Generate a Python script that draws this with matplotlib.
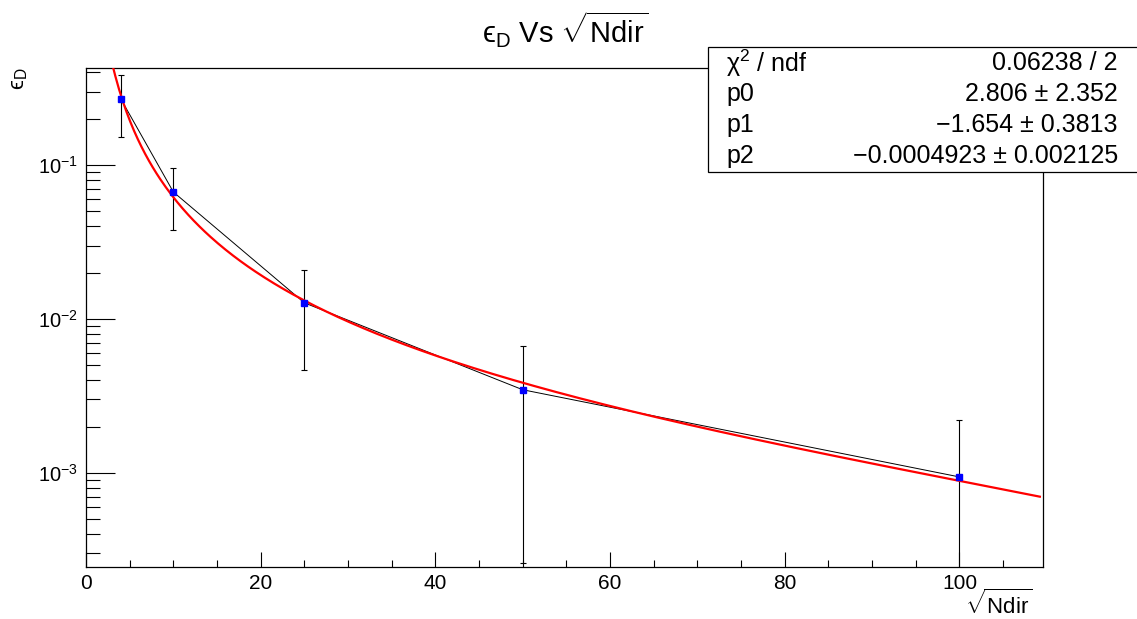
import numpy as np
import matplotlib
matplotlib.use('Agg')
import matplotlib.pyplot as plt
from matplotlib.ticker import LogLocator, NullFormatter, MultipleLocator

plt.rcParams['font.family'] = ['Liberation Sans', 'DejaVu Sans']
plt.rcParams['mathtext.fontset'] = 'custom'
plt.rcParams['mathtext.rm'] = 'Liberation Sans'
plt.rcParams['mathtext.it'] = 'Liberation Sans:italic'
plt.rcParams['mathtext.bf'] = 'Liberation Sans:bold'

# data points (sqrt Ndir, eps_D, error)
ndir = [4, 10, 25, 50, 100]
eps = [0.268, 0.0668, 0.01273, 0.00347, 0.000942]
eps_err = [0.117, 0.0289, 0.00807, 0.00321, 0.00127]

# fit result shown in stats box: p0 * x^p1 + p2
p0, p1, p2 = 2.806, -1.654, -0.0004923
fit_xmin, fit_xmax = 2.5, 109.2

stat_names = ['χ$^2$ / ndf', 'p0', 'p1', 'p2']
stat_values = ['0.06238 / 2', '2.806 ± 2.352', '−1.654 ± 0.3813', '−0.0004923 ± 0.002125']

fig = plt.figure(figsize=(11.37, 6.19), dpi=100)
ax = fig.add_axes([86/1137, 1-567/619, (1043-86)/1137, (567-68)/619])

ax.set_yscale('log')
ax.set_xlim(0, 109.56)
ax.set_ylim(2.45e-4, 0.4266)

# lower error bars clipped to axis bottom where they go negative
ylo = [min(e, v - 1e-5) for v, e in zip(eps, eps_err)]
ax.errorbar(ndir, eps, yerr=[ylo, eps_err], fmt='none', ecolor='black',
            elinewidth=0.8, capsize=2, capthick=0.8, zorder=2)
ax.plot(ndir, eps, color='black', lw=0.7, zorder=3)

xf = np.linspace(fit_xmin, fit_xmax, 500)
ax.plot(xf, p0 * xf**p1 + p2, color='red', lw=1.6, zorder=4)
ax.plot(ndir, eps, 's', color='blue', ms=4.5, mec='blue', zorder=5, ls='none')

ax.xaxis.set_major_locator(MultipleLocator(20))
ax.xaxis.set_minor_locator(MultipleLocator(5))
ax.yaxis.set_major_locator(LogLocator(base=10))
ax.yaxis.set_minor_locator(LogLocator(base=10, subs=np.arange(2, 10)))
ax.yaxis.set_minor_formatter(NullFormatter())
ax.tick_params(axis='x', which='major', direction='in', length=10.8, width=0.8, labelsize=15, pad=5)
ax.tick_params(axis='x', which='minor', direction='in', length=5.4, width=0.8)
ax.tick_params(axis='y', which='major', direction='in', length=21, width=0.8, labelsize=14.5, pad=6)
ax.tick_params(axis='y', which='minor', direction='in', length=10.4, width=0.8)
for s in ax.spines.values():
    s.set_linewidth(0.9)

fig.text(565/1137, 1-30/619, r'ϵ$_{\mathrm{D}}$ Vs $\sqrt{\mathrm{Ndir}}$',
         ha='center', va='center', fontsize=21)
fig.text(1032/1137, 1-604/619, r'$\sqrt{\mathrm{Ndir}}$', ha='right', va='center', fontsize=16)
fig.text(19/1137, 1-79/619, r'ϵ$_{\mathrm{D}}$', ha='center', va='center',
         rotation=90, fontsize=16)

# stats box
bx0, by0, by1 = 708/1137, 1-172/619, 1-47/619
box = plt.Rectangle((bx0, by0), 1.0 - bx0 + 0.01, by1 - by0, transform=fig.transFigure,
                    facecolor='white', edgecolor='black', lw=0.9, zorder=10)
fig.add_artist(box)
for i, (n, v) in enumerate(zip(stat_names, stat_values)):
    yy = 1 - (63 + 31 * i) / 619
    fig.text(726/1137, yy, n, ha='left', va='center', fontsize=18, zorder=11)
    fig.text(1118/1137, yy, v, ha='right', va='center', fontsize=18, zorder=11)

fig.savefig('out.png', dpi=100)
